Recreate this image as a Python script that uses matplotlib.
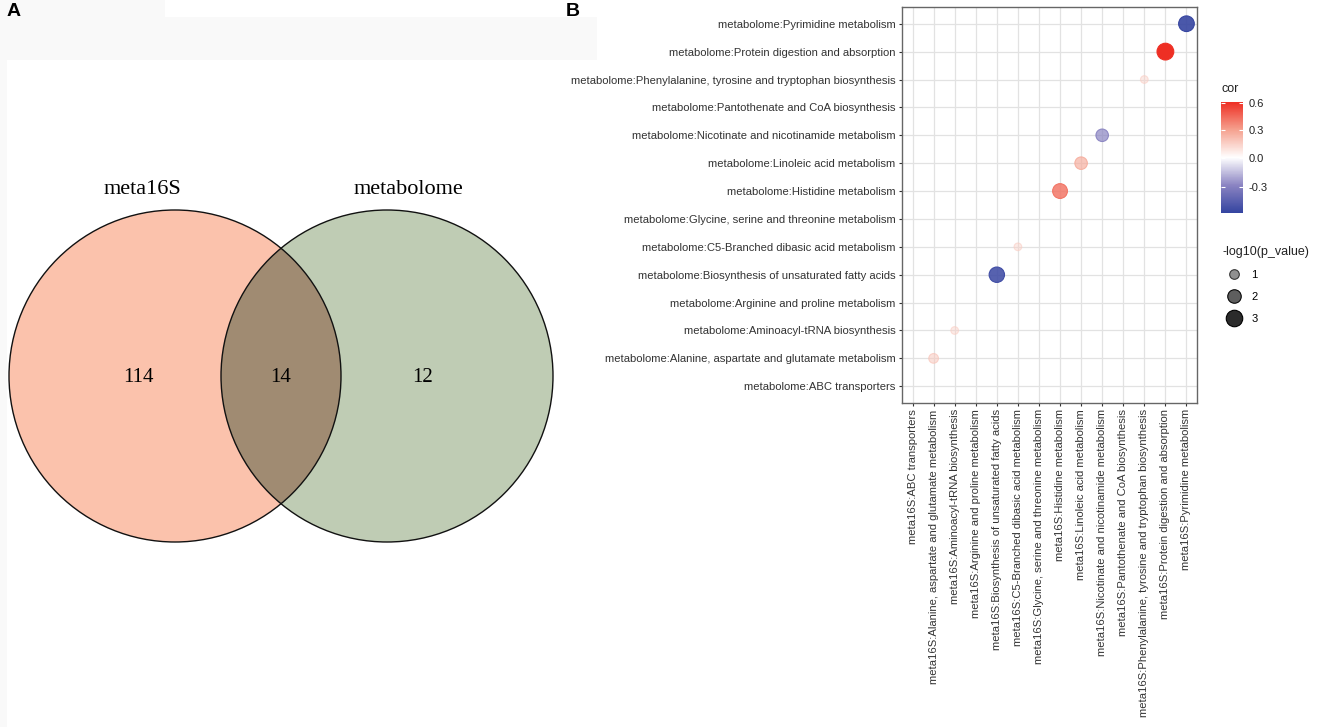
import numpy as np
import matplotlib
matplotlib.use("Agg")
import matplotlib.pyplot as plt
from matplotlib.patches import Circle, Rectangle
from matplotlib.colors import LinearSegmentedColormap, TwoSlopeNorm
from matplotlib.lines import Line2D
import matplotlib.colorbar as mcolorbar

plt.rcParams["font.family"] = ["Liberation Sans", "DejaVu Sans"]

# ── Panel A: Venn counts ────────────────────────────────────────────────────
set_names = ["meta16S", "metabolome"]
only_left, both, only_right = 114, 14, 12

# ── Panel B: pathway correlations ───────────────────────────────────────────
pathways = [
    "ABC transporters",
    "Alanine, aspartate and glutamate metabolism",
    "Aminoacyl-tRNA biosynthesis",
    "Arginine and proline metabolism",
    "Biosynthesis of unsaturated fatty acids",
    "C5-Branched dibasic acid metabolism",
    "Glycine, serine and threonine metabolism",
    "Histidine metabolism",
    "Linoleic acid metabolism",
    "Nicotinate and nicotinamide metabolism",
    "Pantothenate and CoA biosynthesis",
    "Phenylalanine, tyrosine and tryptophan biosynthesis",
    "Protein digestion and absorption",
    "Pyrimidine metabolism",
]
x_labels = ["meta16S:" + p for p in pathways]
y_labels = ["metabolome:" + p for p in pathways]

# pairs that have a point (meta16S pathway, metabolome pathway)
pt_x = ["Alanine, aspartate and glutamate metabolism", "Aminoacyl-tRNA biosynthesis",
        "Biosynthesis of unsaturated fatty acids", "C5-Branched dibasic acid metabolism",
        "Histidine metabolism", "Linoleic acid metabolism",
        "Nicotinate and nicotinamide metabolism",
        "Phenylalanine, tyrosine and tryptophan biosynthesis",
        "Protein digestion and absorption", "Pyrimidine metabolism"]
pt_y = list(pt_x)
cor = [0.19, 0.16, -0.52, 0.16, 0.42, 0.27, -0.30, 0.16, 0.61, -0.55]
nlog_p = [1.0, 0.6, 2.6, 0.6, 2.4, 1.7, 1.7, 0.6, 3.1, 2.7]

legend_sizes = [1, 2, 3]
cbar_ticks = [-0.3, 0.0, 0.3, 0.6]

W, H = 1325, 727
fig = plt.figure(figsize=(W / 100, H / 100), dpi=100)
fig.patch.set_facecolor("white")

# faint grey scan artefacts round panel A
bg = fig.add_axes([0, 0, 1, 1], zorder=-5)
bg.set_xlim(0, W); bg.set_ylim(H, 0); bg.axis("off")
for (x0, y0, w, h) in [(0, 0, 7, H), (0, 0, 165, 17), (7, 17, 590, 43)]:
    bg.add_patch(Rectangle((x0, y0), w, h, facecolor="#f9f9f9", edgecolor="none"))

# ── Venn ────────────────────────────────────────────────────────────────────
axA = fig.add_axes([0, 0, 600 / W, 1])
axA.set_xlim(0, 600); axA.set_ylim(H, 0); axA.axis("off")
r, cy = 166, 376
cx_l, cx_r = 175, 387
axA.add_patch(Circle((cx_l, cy), r, facecolor="#fbc2ac", edgecolor="none"))
axA.add_patch(Circle((cx_r, cy), r, facecolor="#bfccb4", edgecolor="none"))
# intersection
t = np.linspace(0, 2 * np.pi, 721)
xl = cx_l + r * np.cos(t); yl = cy + r * np.sin(t)
inside = (xl - cx_r) ** 2 + (yl - cy) ** 2 <= r ** 2
xr = cx_r + r * np.cos(t); yr = cy + r * np.sin(t)
inside_r = (xr - cx_l) ** 2 + (yr - cy) ** 2 <= r ** 2
lens_x = np.concatenate([xl[inside], xr[inside_r]])
lens_y = np.concatenate([yl[inside], yr[inside_r]])
ang = np.arctan2(lens_y - cy, lens_x - (cx_l + cx_r) / 2)
o = np.argsort(ang)
axA.fill(lens_x[o], lens_y[o], color="#a08b72", lw=0)
axA.add_patch(Circle((cx_l, cy), r, facecolor="none", edgecolor="#111", lw=1.0))
axA.add_patch(Circle((cx_r, cy), r, facecolor="none", edgecolor="#111", lw=1.0))
serif = ["Liberation Serif", "DejaVu Serif"]
axA.text(142, 189, set_names[0], family=serif, fontsize=16, ha="center", va="center")
axA.text(408, 189, set_names[1], family=serif, fontsize=16, ha="center", va="center")
axA.text(138, 377, str(only_left), family=serif, fontsize=15, ha="center", va="center")
axA.text(281, 377, str(both), family=serif, fontsize=15, ha="center", va="center")
axA.text(423, 377, str(only_right), family=serif, fontsize=15, ha="center", va="center")

fig.text(7 / W, 1 - 12 / H, "A", fontsize=14, fontweight="bold", va="center", ha="left")
fig.text(566 / W, 1 - 12 / H, "B", fontsize=14, fontweight="bold", va="center", ha="left")

# ── Dot plot ────────────────────────────────────────────────────────────────
cmap = LinearSegmentedColormap.from_list(
    "cor", ["#3444a0", "#8b84c2", "#ffffff", "#f5a18f", "#ee2f24"])
norm = TwoSlopeNorm(vmin=-0.56, vcenter=0.0, vmax=0.61)

axB = fig.add_axes([902 / W, 1 - 403 / H, 295 / W, 396 / H])
pos = {p: i + 1 for i, p in enumerate(pathways)}
xs = [pos[p] for p in pt_x]
ys = [pos[p] for p in pt_y]
nlp = np.array(nlog_p)

def size_pt2(v):
    d_px = np.sqrt(5 + 89 * np.asarray(v))
    return (d_px * 0.72) ** 2

def alpha_of(v):
    return np.clip(0.42 + 0.58 * (np.asarray(v) - 0.6) / 2.5, 0, 1)

face = cmap(norm(np.array(cor)))
face[:, 3] = alpha_of(nlp)
edge = face.copy()
edge[:, 3] = np.clip(face[:, 3] + 0.2, 0, 1)
axB.scatter(xs, ys, s=size_pt2(nlp), c=face, edgecolors=edge, linewidths=0.8, zorder=3)

axB.set_xlim(0.5, 14.5)
axB.set_ylim(0.4, 14.6)
axB.set_xticks(range(1, 15))
axB.set_yticks(range(1, 15))
axB.set_xticklabels(x_labels, rotation=90, ha="center", va="top")
axB.set_yticklabels(y_labels)
axB.grid(True, color="#e2e2e2", lw=0.9, zorder=0)
axB.set_axisbelow(True)
axB.tick_params(length=2.5, width=0.8, color="#333", labelsize=8.1,
                labelcolor="#333", pad=2)
for sp in axB.spines.values():
    sp.set_color("#666")
    sp.set_linewidth(1.0)

# colour bar
cax = fig.add_axes([1221 / W, 1 - 213 / H, 22 / W, 111 / H])
cb = mcolorbar.ColorbarBase(cax, cmap=cmap, norm=norm, ticks=cbar_ticks)
cb.outline.set_visible(False)
cb.ax.set_yticklabels([f"{v:.1f}" for v in cbar_ticks])
cax.tick_params(direction="in", length=3, color="white", width=0.8,
                left=True, right=True, labelsize=8, labelcolor="#222", pad=4)
fig.text(1221 / W, 1 - 89 / H, "cor", fontsize=9, color="#222", va="center", ha="left")

# size legend
handles = [Line2D([], [], ls="", marker="o", markersize=np.sqrt(size_pt2(v)),
                  mfc=(0, 0, 0, float(alpha_of(v)) * 0.85),
                  mec=(0, 0, 0, min(1, float(alpha_of(v)) + 0.2)), mew=0.8)
           for v in legend_sizes]
leg = fig.legend(handles, [str(v) for v in legend_sizes], title="-log10(p_value)",
                 loc="upper left", bbox_to_anchor=(1217 / W, 1 - 240 / H),
                 frameon=False, fontsize=8, title_fontsize=9, labelspacing=1.1,
                 handletextpad=0.6, borderpad=0, alignment="left")
leg.get_title().set_color("#222")

fig.savefig("out.png", dpi=100)
